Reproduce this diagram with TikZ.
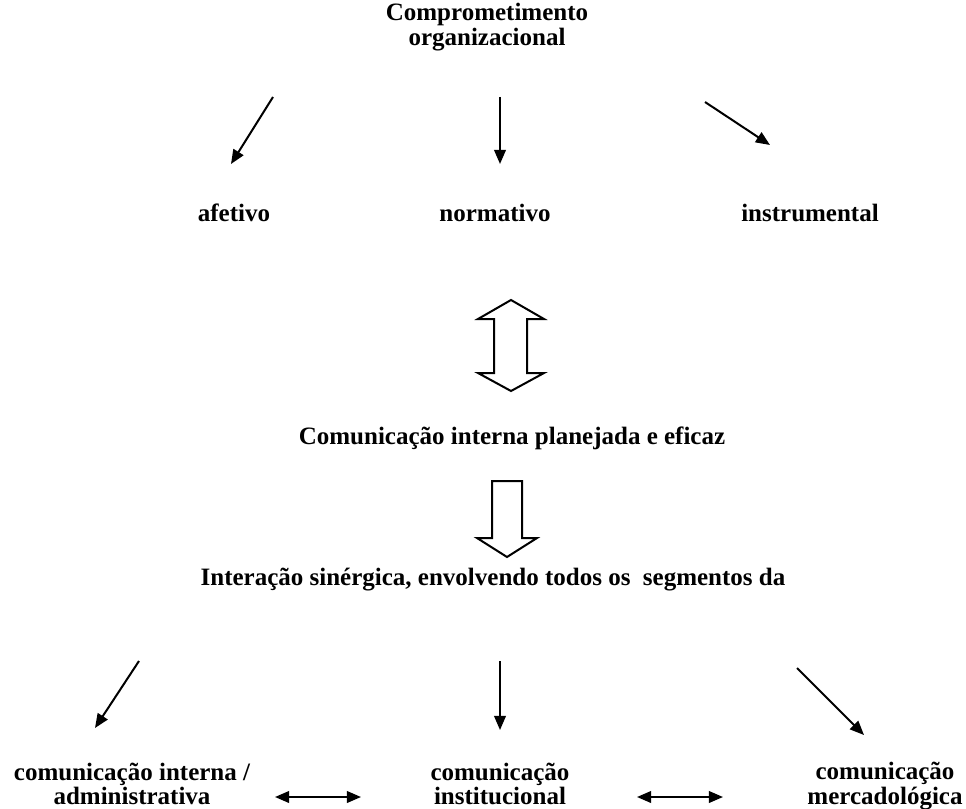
\documentclass[tikz,border=0pt]{standalone}
\usepackage{fontspec}
\setmainfont{Liberation Serif}
\usetikzlibrary{arrows.meta,calc,positioning}
\tikzset{lbl/.style={align=center, font=\fontsize{15}{14.8}\selectfont\bfseries, inner sep=0pt}}
\tikzstyle{blk}=[draw, line width=1.2pt, line join=miter, fill=white]
\begin{document}
\begin{tikzpicture}[x=0.6pt, y=-0.6pt, >={Triangle[length=8.5pt,width=7pt]}, line width=1.2pt]
\useasboundingbox (0,0) rectangle (966,809);
\node[lbl] (C0) at (487,27) {Comprometimento\\organizacional};
\node[lbl, anchor=base] (A1) at (234,221) {afetivo};
\node[lbl, anchor=base] (A2) at (495,221) {normativo};
\node[lbl, anchor=base] (A3) at (810,221) {instrumental};
\node[lbl, anchor=base] (M1) at (512,444) {Comunica\c{c}\~ao interna planejada e eficaz};
\node[lbl, anchor=base] (M2) at (493,585) {Intera\c{c}\~ao sin\'ergica, envolvendo todos os \ segmentos da};
\node[lbl] (B1) at (132,784) {comunica\c{c}\~ao interna /\\administrativa};
\node[lbl] (B2) at (500,784) {comunica\c{c}\~ao\\institucional};
\node[lbl] (B3) at (885,786) {comunica\c{c}\~ao\\mercadol\'ogica};
% arrow ends
\coordinate (s1) at (273,97);  \coordinate (t1) at (231,164);
\coordinate (s2) at (500,97);  \coordinate (t2) at (500,164);
\coordinate (s3) at (705,102); \coordinate (t3) at (770,145);
\coordinate (u1) at (139,661); \coordinate (v1) at (95,728);
\coordinate (u2) at (500,661); \coordinate (v2) at (500,730);
\coordinate (u3) at (797,668); \coordinate (v3) at (864,735);
\coordinate (h1) at (275,797); \coordinate (h2) at (361,797);
\coordinate (h3) at (637,797); \coordinate (h4) at (723,797);
\path[->] (s1) edge (t1)
	(s2) edge (t2)
	(s3) edge (t3)
	(u1) edge (v1)
	(u2) edge (v2)
	(u3) edge (v3);
\path[<->] (h1) edge (h2)
	(h3) edge (h4);
% block arrows
\draw[blk] (511,300) -- (544,319) -- (527,319) -- (527,373) -- (544,373) -- (511,391)
	-- (478,373) -- (494,373) -- (494,319) -- (478,319) -- cycle;
\draw[blk] (492,481) -- (522,481) -- (522,538) -- (537,538) -- (507,557) -- (477,538)
	-- (492,538) -- cycle;
\end{tikzpicture}
\end{document}
